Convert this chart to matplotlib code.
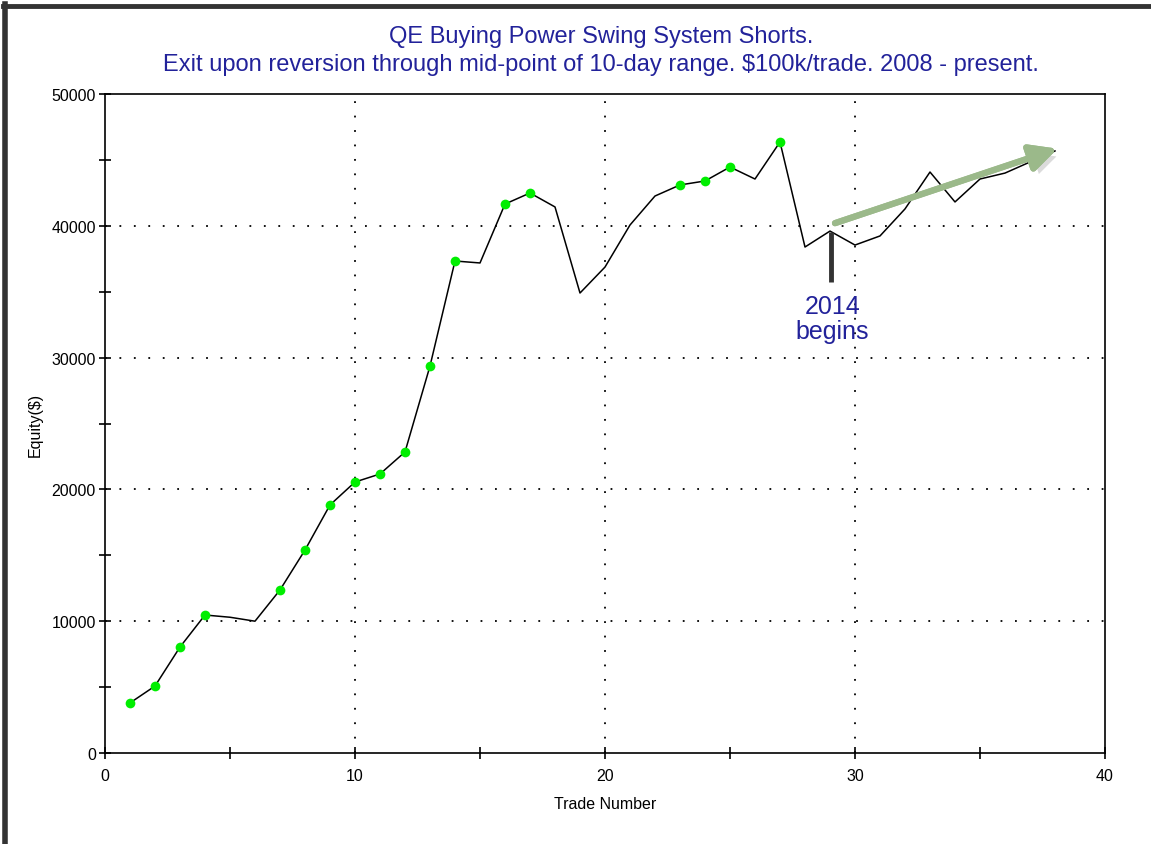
import matplotlib
matplotlib.use("Agg")
import matplotlib.pyplot as plt
from matplotlib.lines import Line2D
import matplotlib.patheffects as pe

# datos
trades = list(range(1, 39))
equity = [3800, 5080, 8040, 10470, 10300, 10000, 12370, 15400, 18820, 20560,
          21170, 22840, 29360, 37330, 37180, 41650, 42490, 41430, 34900, 36870,
          40060, 42260, 43100, 43400, 44460, 43550, 46360, 38390, 39600, 38540,
          39230, 41280, 44080, 41810, 43550, 44000, 44840, 45680]
# operaciones marcadas con punto verde
marked = [1, 2, 3, 4, 7, 8, 9, 10, 11, 12, 13, 14, 16, 17, 23, 24, 25, 27]

plt.rcParams['font.family'] = ['Liberation Sans', 'DejaVu Sans']
azul = '#22229a'

fig = plt.figure(figsize=(11.51, 8.45), dpi=100)
ax = fig.add_axes([105/1151, 1 - 754/845, 1000/1151, 659/845])

ax.plot(trades, equity, color='black', lw=1.1, zorder=3)
mx = [t for t in marked]
my = [equity[t - 1] for t in marked]
ax.plot(mx, my, 'o', color='#00ee00', markersize=7, markeredgewidth=0, zorder=4)

ax.set_xlim(0, 40)
ax.set_ylim(0, 50000)
ax.set_xticks([0, 10, 20, 30, 40])
ax.set_xticks([5, 15, 25, 35], minor=True)
ax.set_yticks([0, 10000, 20000, 30000, 40000, 50000])
ax.set_yticks([5000, 15000, 25000, 35000, 45000], minor=True)
ax.tick_params(which='both', direction='inout', length=9, width=1.2, labelsize=11.5, pad=2)
ax.tick_params(axis='x', pad=6)

for v in [10, 20, 30]:
    ax.axvline(v, color='black', lw=1.3, linestyle=(0, (1, 7)), zorder=1)
for v in [10000, 20000, 30000, 40000]:
    ax.axhline(v, color='black', lw=1.3, linestyle=(0, (1, 7)), zorder=1)

for s in ax.spines.values():
    s.set_linewidth(1.2)

ax.set_xlabel('Trade Number', fontsize=11.5, labelpad=10)
ax.set_ylabel('Equity($)', fontsize=11.5, labelpad=6)

fig.text(601/1151, 1 - 37/845, 'QE Buying Power Swing System Shorts.', ha='center', va='center',
         color=azul, fontsize=17)
fig.text(601/1151, 1 - 65/845, 'Exit upon reversion through mid-point of 10-day range. $100k/trade. 2008 - present.',
         ha='center', va='center', color=azul, fontsize=17)

# marca del inicio de 2014
ax.plot([29.05, 29.05], [35700, 39500], color='#333333', lw=3.5, solid_capstyle='butt', zorder=5)
ax.text(29.1, 33000, '2014\nbegins', ha='center', va='center', color=azul, fontsize=18,
        linespacing=1.05, zorder=6)

# flecha de tendencia
ax.annotate('', xy=(38.1, 45850), xytext=(29.2, 40200),
            arrowprops=dict(arrowstyle='-|>,head_length=1.6,head_width=0.8', lw=4.5,
                            color='#9bb98a', shrinkA=0, shrinkB=0,
                            path_effects=[pe.withSimplePatchShadow(offset=(4, -4), shadow_rgbFace='#888888', alpha=0.3),
                                          pe.Normal()]),
            zorder=6)

# borde de la ventana
fig.add_artist(Line2D([0.0045, 0.0045], [0, 1 - 5/845], color='#333333', lw=4, transform=fig.transFigure))
fig.add_artist(Line2D([0.0027, 1], [1 - 7/845, 1 - 7/845], color='#333333', lw=3.5, transform=fig.transFigure))

fig.savefig('out.png', dpi=100)
